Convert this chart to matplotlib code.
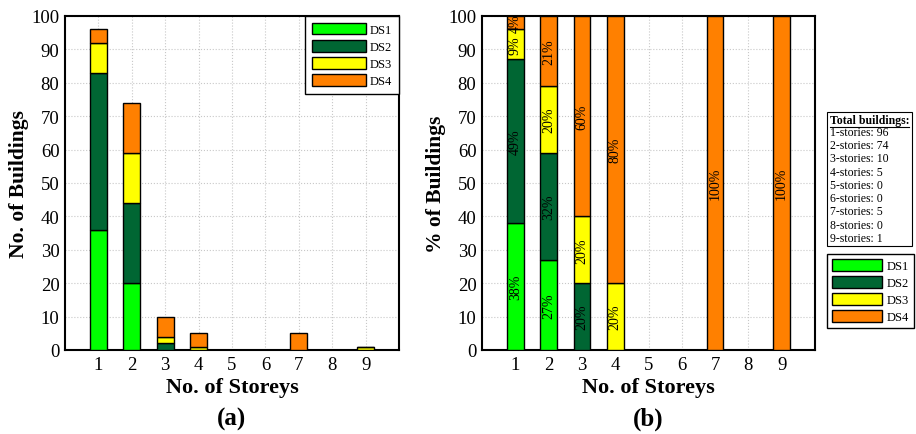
import numpy as np
import matplotlib
matplotlib.use("Agg")
import matplotlib.pyplot as plt
from matplotlib.patches import Rectangle
from matplotlib.lines import Line2D

plt.rcParams['font.family'] = ['Liberation Serif', 'DejaVu Serif']

storeys = [1, 2, 3, 4, 5, 6, 7, 8, 9]
damage_states = ["DS1", "DS2", "DS3", "DS4"]
colours = ["#00ff00", "#006633", "#ffff00", "#ff8000"]

# number of buildings per damage state
ds1_count = [36, 20, 0, 0, 0, 0, 0, 0, 0]
ds2_count = [47, 24, 2, 0, 0, 0, 0, 0, 0]
ds3_count = [9, 15, 2, 1, 0, 0, 0, 0, 1]
ds4_count = [4, 15, 6, 4, 0, 0, 5, 0, 0]

# share of buildings per damage state (%)
ds1_pct = [38, 27, 0, 0, 0, 0, 0, 0, 0]
ds2_pct = [49, 32, 20, 0, 0, 0, 0, 0, 0]
ds3_pct = [9, 20, 20, 20, 0, 0, 0, 0, 0]
ds4_pct = [4, 21, 60, 80, 0, 0, 100, 0, 100]

total_buildings = [96, 74, 10, 5, 0, 0, 5, 0, 1]


def stacked(ax, series, labels=False):
    bottom = np.zeros(len(storeys))
    for vals, col, name in zip(series, colours, damage_states):
        vals = np.array(vals, dtype=float)
        ax.bar(storeys, vals, width=0.5, bottom=bottom, color=col,
               edgecolor="black", linewidth=1.0, label=name, zorder=3)
        if labels:
            for x, v, b in zip(storeys, vals, bottom):
                if v > 0:
                    ax.text(x, b + v / 2, "%d%%" % v, rotation=90,
                            ha="center", va="center", fontsize=10, zorder=4)
        bottom += vals


def style(ax, ylabel):
    ax.set_xlim(0, 10)
    ax.set_ylim(0, 100)
    ax.set_xticks(storeys)
    ax.set_yticks(range(0, 101, 10))
    ax.tick_params(length=0, labelsize=13.5, pad=4)
    ax.grid(True, linestyle=":", color="#c8c8c8", linewidth=0.8, zorder=0)
    ax.set_axisbelow(True)
    for s in ax.spines.values():
        s.set_linewidth(1.5)
    ax.set_ylabel(ylabel, fontsize=15.5, fontweight="bold", labelpad=2)
    ax.set_xlabel("No. of Storeys", fontsize=16, fontweight="bold", labelpad=3)


def legend_kw(hl):
    return dict(fontsize=9, handlelength=hl, handleheight=1.05,
                fancybox=False, edgecolor="black", framealpha=1,
                labelspacing=0.32, handletextpad=0.35)


fig = plt.figure(figsize=(9.16, 4.35), dpi=100)
ax1 = fig.add_axes([65 / 916, 84 / 435, 334 / 916, 334 / 435])
ax2 = fig.add_axes([482 / 916, 84 / 435, 333 / 916, 334 / 435])

stacked(ax1, [ds1_count, ds2_count, ds3_count, ds4_count])
style(ax1, "No. of Buildings")
ax1.legend(loc="upper right", borderaxespad=0, borderpad=0.55,
           **legend_kw(4.3))

stacked(ax2, [ds1_pct, ds2_pct, ds3_pct, ds4_pct], labels=True)
style(ax2, "% of Buildings")
ax2.legend(loc="upper left", bbox_to_anchor=(827 / 916, 1 - 255 / 435),
           bbox_transform=fig.transFigure, borderaxespad=0, borderpad=0.4,
           **legend_kw(4.0))

fig.text(232 / 916, 1 - 419 / 435, "(a)", fontsize=18, fontweight="bold",
         ha="center", va="center")
fig.text(648 / 916, 1 - 419 / 435, "(b)", fontsize=18, fontweight="bold",
         ha="center", va="center")

# summary box with building totals
bx0, bx1 = 827 / 916, 912 / 916
by0, by1 = 1 - 247 / 435, 1 - 113 / 435
fig.patches.append(Rectangle((bx0, by0), bx1 - bx0, by1 - by0,
                             transform=fig.transFigure, facecolor="white",
                             edgecolor="black", linewidth=0.8))
head_y = 1 - 121 / 435
fig.text(bx0 + 0.003, head_y, "Total buildings:", fontsize=8.5,
         fontweight="bold", va="center")
fig.lines.append(Line2D([bx0 + 0.003, bx1 - 0.003],
                        [head_y - 0.015, head_y - 0.015],
                        transform=fig.transFigure, color="black", lw=0.8))
for i, (s, n) in enumerate(zip(storeys, total_buildings)):
    fig.text(bx0 + 0.003, 1 - (133 + i * 13.25) / 435,
             "%d-stories: %d" % (s, n), fontsize=8.5, va="center")

fig.savefig("out.png", dpi=100)
